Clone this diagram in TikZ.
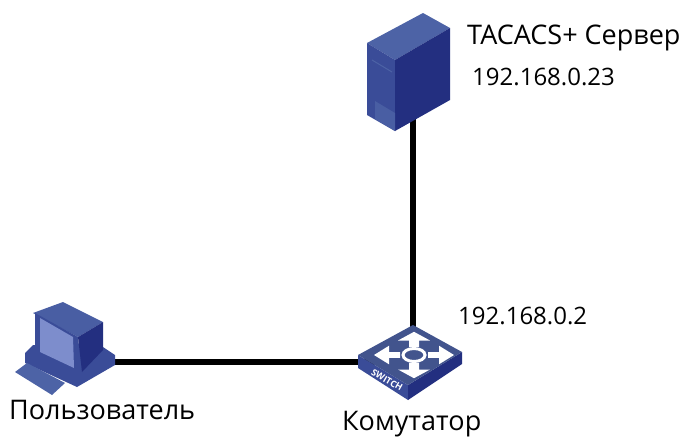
\documentclass[tikz,border=0pt]{standalone}
\usepackage{fontspec}
\setmainfont{Open Sans}
\tikzset{
  vertex/.style={inner sep=0pt, minimum size=0pt},
  link/.style={line width=6pt},
  namelabel/.style={inner sep=0pt, anchor=base west, font=\fontsize{27}{30}\selectfont},
  addrlabel/.style={inner sep=0pt, anchor=base west, font=\fontsize{24}{28}\selectfont},
}
\definecolor{faceLight}{HTML}{4D63A6}
\definecolor{faceMid}{HTML}{3A4C98}
\definecolor{faceDark}{HTML}{232F80}
\definecolor{faceScreen}{HTML}{7D8DCC}
\begin{document}
\begin{tikzpicture}[x=1pt, y=-1pt]
    \useasboundingbox (0,0) rectangle (687,437);
    \node [vertex] (server) at (413,72) {};
    \node [vertex] (switch) at (413,362) {};
    \node [vertex] (pc) at (100,362) {};
    \draw [link] (pc) -- (switch);
    \draw [link] (switch) -- (server);

    \fill [faceLight] (367,43) -- (423,13) -- (450,28) -- (395,60) -- cycle;
    \fill [faceMid] (367,43) -- (395,60) -- (395,131) -- (367,115) -- cycle;
    \fill [faceDark] (395,60) -- (450,28) -- (450,100) -- (395,131) -- cycle;
    \fill [faceLight!80!faceMid] (375,101) -- (395,113) -- (395,131) -- (375,119) -- cycle;
    \draw [faceLight, line width=1pt] (372,60) -- (392,72);

    \fill [faceMid] (358,355) -- (408,385) -- (408,400) -- (358,368) -- cycle;
    \fill [faceDark] (408,385) -- (462,352) -- (462,364) -- (408,400) -- cycle;
    \fill [faceLight!85!black] (358,355) -- (413,325) -- (462,352) -- (408,385) -- cycle;
    \foreach \ang in {0,90,180,270} {
      \begin{scope}[shift={(414,355)}, yscale=0.58, rotate=\ang]
        \fill [white] (14,-5) -- (25,-5) -- (25,-16) -- (40,0) -- (25,16) -- (25,5) -- (14,5) -- cycle;
      \end{scope}
    }
    \draw [white, line width=3pt] (414,355) ellipse (11 and 6.5);
    \node [rotate=-30, inner sep=0pt, text=white, font=\bfseries\fontsize{9}{9}\selectfont] (sw) at (387,380) {SWITCH};

    \fill [faceMid] (25,353) -- (25,363) -- (77,387) -- (115,365) -- (115,355) -- (100,345) -- (33,345) -- cycle;
    \fill [faceLight] (15,372) -- (27,363) -- (65,383) -- (52,395) -- cycle;
    \fill [faceLight!80!faceMid] (33,313) -- (63,302) -- (103,322) -- (78,337) -- cycle;
    \fill [faceMid] (35,313) -- (78,337) -- (82,372) -- (35,350) -- cycle;
    \fill [faceDark] (78,337) -- (103,322) -- (103,350) -- (82,372) -- cycle;
    \fill [faceScreen] (40,318) -- (73,337) -- (74,368) -- (40,352) -- cycle;

    \node [namelabel] (servername) at (467,44) {TACACS+ Сервер};
    \node [addrlabel] (serverip) at (472,85) {192.168.0.23};
    \node [addrlabel] (switchip) at (458,324) {192.168.0.2};
    \node [namelabel] (pcname) at (9,419) {Пользователь};
    \node [namelabel] (switchname) at (342,430) {Комутатор};
\end{tikzpicture}
\end{document}
